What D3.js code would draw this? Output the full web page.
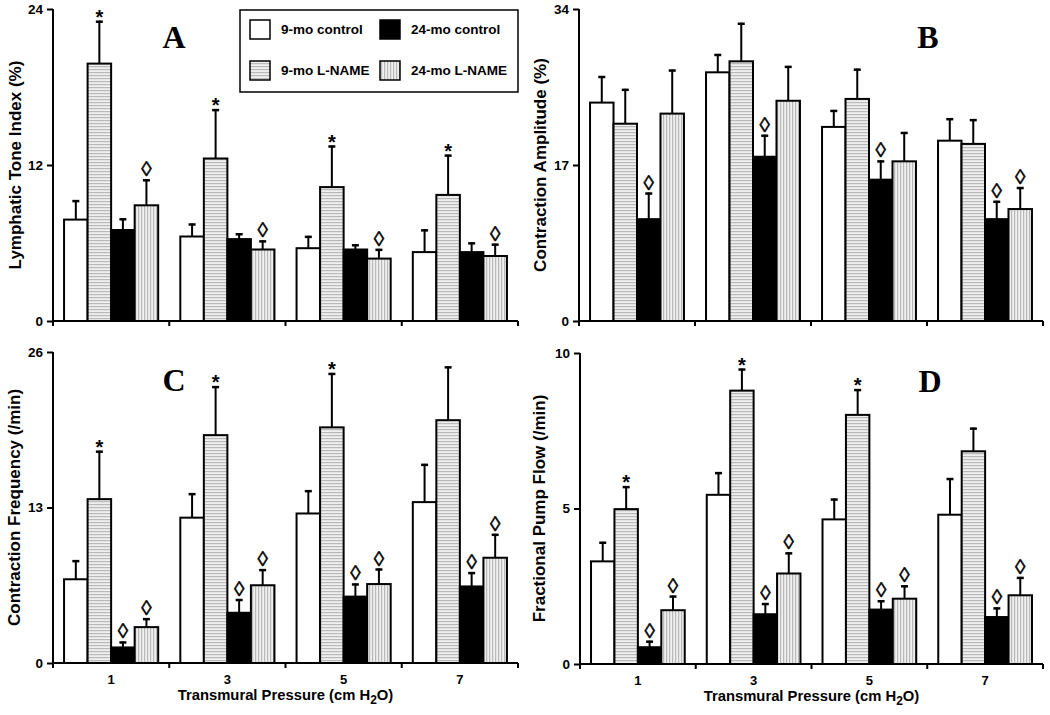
<!DOCTYPE html>
<html><head><meta charset="utf-8">
<script src="https://cdn.jsdelivr.net/npm/d3@7"></script>
<style>
html,body{margin:0;padding:0;background:#fff;}
svg{display:block;}
text{font-family:"Liberation Sans",Arial,sans-serif;font-weight:bold;fill:#000;}
</style>
</head><body>
<svg id="chart" width="1050" height="715"></svg>
<script>
// ---------- DATA ----------
const categories = ["1", "3", "5", "7"];
const seriesNames = ["9-mo control", "9-mo L-NAME", "24-mo control", "24-mo L-NAME"];

// Panel A: Lymphatic Tone Index (%)
const A_9ctl   = [7.8, 6.5, 5.6, 5.3];
const A_9ln    = [19.8, 12.5, 10.3, 9.7];
const A_24ctl  = [7.0, 6.3, 5.5, 5.3];
const A_24ln   = [8.9, 5.5, 4.8, 5.0];
const A_9ctlSE = [1.5, 1.0, 0.95, 1.75];
const A_9lnSE  = [3.3, 3.8, 3.2, 3.1];
const A_24ctlSE= [0.9, 0.45, 0.4, 0.75];
const A_24lnSE = [2.0, 0.7, 0.75, 0.95];
const A_marks  = [["", "", "", ""], ["*", "*", "*", "*"], ["", "", "", ""], ["◊", "◊", "◊", "◊"]];
const A_ticks  = [0, 12, 24];

// Panel B: Contraction Amplitude (%)
const B_9ctl   = [23.8, 27.1, 21.15, 19.65];
const B_9ln    = [21.5, 28.3, 24.2, 19.3];
const B_24ctl  = [11.1, 17.9, 15.4, 11.1];
const B_24ln   = [22.6, 24.0, 17.4, 12.2];
const B_9ctlSE = [2.9, 2.0, 1.85, 2.45];
const B_9lnSE  = [3.8, 4.2, 3.3, 2.7];
const B_24ctlSE= [2.9, 2.4, 2.1, 2.0];
const B_24lnSE = [4.8, 3.8, 3.2, 2.4];
const B_marks  = [["", "", "", ""], ["", "", "", ""], ["◊", "◊", "◊", "◊"], ["", "", "", "◊"]];
const B_ticks  = [0, 17, 34];

// Panel C: Contraction Frequency (/min)
const C_9ctl   = [7.0, 12.15, 12.5, 13.45];
const C_9ln    = [13.7, 19.05, 19.7, 20.3];
const C_24ctl  = [1.3, 4.2, 5.55, 6.4];
const C_24ln   = [3.0, 6.5, 6.6, 8.8];
const C_9ctlSE = [1.6, 2.05, 1.95, 3.2];
const C_9lnSE  = [4.05, 4.1, 4.55, 4.5];
const C_24ctlSE= [0.5, 1.15, 1.1, 1.2];
const C_24lnSE = [0.75, 1.35, 1.3, 2.0];
const C_marks  = [["", "", "", ""], ["*", "*", "*", ""], ["◊", "◊", "◊", "◊"], ["◊", "◊", "◊", "◊"]];
const C_ticks  = [0, 13, 26];

// Panel D: Fractional Pump Flow (/min)
const D_9ctl   = [3.3, 5.44, 4.65, 4.8];
const D_9ln    = [4.98, 8.79, 8.01, 6.84];
const D_24ctl  = [0.54, 1.6, 1.75, 1.51];
const D_24ln   = [1.73, 2.91, 2.1, 2.21];
const D_9ctlSE = [0.63, 0.73, 0.67, 1.18];
const D_9lnSE  = [0.74, 0.71, 0.83, 0.76];
const D_24ctlSE= [0.21, 0.36, 0.3, 0.31];
const D_24lnSE = [0.47, 0.68, 0.43, 0.59];
const D_marks  = [["", "", "", ""], ["*", "*", "*", ""], ["◊", "◊", "◊", "◊"], ["◊", "◊", "◊", "◊"]];
const D_ticks  = [0, 5, 10];

const xTitle = "Transmural Pressure (cm H";

// ---------- DRAW ----------
const svg = d3.select("#chart");
const defs = svg.append("defs");

function hatch(id, vertical) {
  const p = defs.append("pattern").attr("id", id).attr("patternUnits", "userSpaceOnUse")
    .attr("width", 3).attr("height", 3);
  p.append("rect").attr("width", 3).attr("height", 3).attr("fill", "#efefef");
  if (vertical) p.append("rect").attr("x", 0).attr("y", 0).attr("width", 1.2).attr("height", 3).attr("fill", "#b9b9b9");
  else p.append("rect").attr("x", 0).attr("y", 0).attr("width", 3).attr("height", 1.2).attr("fill", "#b9b9b9");
}
hatch("hH", false);
hatch("hV", true);
const fills = ["#ffffff", "url(#hH)", "#000000", "url(#hV)"];

const panels = [
  {letter: "A", title: "Lymphatic Tone Index (%)", vals: [A_9ctl, A_9ln, A_24ctl, A_24ln], se: [A_9ctlSE, A_9lnSE, A_24ctlSE, A_24lnSE], marks: A_marks, ticks: A_ticks,
   x0: 53, x1: 518, yTop: 9, yBot: 321, titleX: 15, letterX: 174, bottom: false},
  {letter: "B", title: "Contraction Amplitude (%)", vals: [B_9ctl, B_9ln, B_24ctl, B_24ln], se: [B_9ctlSE, B_9lnSE, B_24ctlSE, B_24lnSE], marks: B_marks, ticks: B_ticks,
   x0: 579, x1: 1043, yTop: 9, yBot: 321, titleX: 540, letterX: 928, bottom: false},
  {letter: "C", title: "Contraction Frequency (/min)", vals: [C_9ctl, C_9ln, C_24ctl, C_24ln], se: [C_9ctlSE, C_9lnSE, C_24ctlSE, C_24lnSE], marks: C_marks, ticks: C_ticks,
   x0: 53, x1: 518, yTop: 352, yBot: 663, titleX: 14, letterX: 174, bottom: true},
  {letter: "D", title: "Fractional Pump Flow (/min)", vals: [D_9ctl, D_9ln, D_24ctl, D_24ln], se: [D_9ctlSE, D_9lnSE, D_24ctlSE, D_24lnSE], marks: D_marks, ticks: D_ticks,
   x0: 580, x1: 1043, yTop: 353, yBot: 664, titleX: 539, letterX: 930, bottom: true}
];

panels.forEach(p => {
  const g = svg.append("g");
  const y = d3.scaleLinear().domain([p.ticks[0], p.ticks[p.ticks.length - 1]]).range([p.yBot, p.yTop]);
  const xc = d3.scaleBand().domain(categories).range([p.x0, p.x1]);
  const xs = d3.scaleBand().domain(d3.range(4)).range([0, xc.bandwidth()]).paddingOuter(0.47);

  p.vals.forEach((arr, si) => {
    arr.forEach((v, ci) => {
      const bx = xc(categories[ci]) + xs(si);
      const bw = xs.bandwidth();
      const cx = bx + bw / 2;
      const top = y(p.vals[si][ci] + p.se[si][ci]);
      g.append("line").attr("x1", cx).attr("x2", cx).attr("y1", y(v)).attr("y2", top)
        .attr("stroke", "#000").attr("stroke-width", 2);
      g.append("line").attr("x1", cx - 3.5).attr("x2", cx + 3.5).attr("y1", top + 1).attr("y2", top + 1)
        .attr("stroke", "#000").attr("stroke-width", 2.5);
      g.append("rect").attr("x", bx).attr("y", y(v)).attr("width", bw).attr("height", y(0) - y(v))
        .attr("fill", fills[si]).attr("stroke", "#000").attr("stroke-width", 2);
      const m = p.marks[si][ci];
      if (m === "*") {
        g.append("text").attr("x", cx).attr("y", top + 3).attr("text-anchor", "middle")
          .attr("font-size", 20).text(m);
      } else if (m) {
        g.append("text").attr("x", cx).attr("y", top - 3).attr("text-anchor", "middle")
          .style("font-weight", "normal").attr("font-size", 21)
          .attr("stroke", "#000").attr("stroke-width", 0.5).text(m);
      }
    });
  });

  // y axis
  const yAxis = d3.axisLeft(y).tickValues(p.ticks).tickSize(6).tickPadding(4).tickFormat(d3.format("d"));
  const ya = g.append("g").attr("transform", `translate(${p.x0},0)`).call(yAxis);
  ya.select(".domain").attr("stroke-width", 2).attr("d", `M0,${p.yTop}V${p.yBot}`);
  ya.selectAll(".tick line").attr("stroke-width", 2);
  ya.selectAll(".tick text").attr("font-size", 13.5).style("font-family", "Liberation Sans").style("font-weight", "bold");

  // x axis: ticks at category boundaries
  const bounds = categories.map(c => xc(c)).concat([p.x1]);
  const xa = g.append("g");
  xa.append("line").attr("x1", p.x0).attr("x2", p.x1).attr("y1", p.yBot).attr("y2", p.yBot)
    .attr("stroke", "#000").attr("stroke-width", 2);
  bounds.forEach(b => xa.append("line").attr("x1", b).attr("x2", b).attr("y1", p.yBot).attr("y2", p.yBot + 5)
    .attr("stroke", "#000").attr("stroke-width", 2));
  if (p.bottom) {
    categories.forEach(c => xa.append("text").attr("x", xc(c) + xc.bandwidth() / 2).attr("y", p.yBot + 21)
      .attr("text-anchor", "middle").attr("font-size", 13).text(c));
    const t = xa.append("text").attr("x", (p.x0 + p.x1) / 2).attr("y", p.yBot + 37)
      .attr("text-anchor", "middle").attr("font-size", 14.8);
    t.append("tspan").text(xTitle);
    t.append("tspan").attr("dy", 4).attr("font-size", 12).text("2");
    t.append("tspan").attr("dy", -4).text("O)");
  }

  // y title
  g.append("text").attr("transform", `translate(${p.titleX + 6},${(p.yTop + p.yBot) / 2}) rotate(-90)`)
    .attr("text-anchor", "middle").attr("font-size", 17).text(p.title);

  // panel letter
  g.append("text").attr("x", p.letterX).attr("y", p.yTop + 39).attr("text-anchor", "middle")
    .style("font-family", "'Liberation Serif','Times New Roman',serif").attr("font-size", 32).text(p.letter);
});

// legend
const lg = svg.append("g");
lg.append("rect").attr("x", 240).attr("y", 10).attr("width", 278).attr("height", 82)
  .attr("fill", "#fff").attr("stroke", "#000").attr("stroke-width", 1.5);
const legPos = [[250, 20], [250, 61], [380, 20], [380, 61]];
seriesNames.forEach((n, i) => {
  const [lx, ly] = legPos[i];
  lg.append("rect").attr("x", lx).attr("y", ly).attr("width", 20).attr("height", 19)
    .attr("fill", fills[i]).attr("stroke", "#000").attr("stroke-width", 1.5);
  lg.append("text").attr("x", lx + 31).attr("y", ly + 14).attr("font-size", 13.5).text(n);
});
</script>
</body></html>
